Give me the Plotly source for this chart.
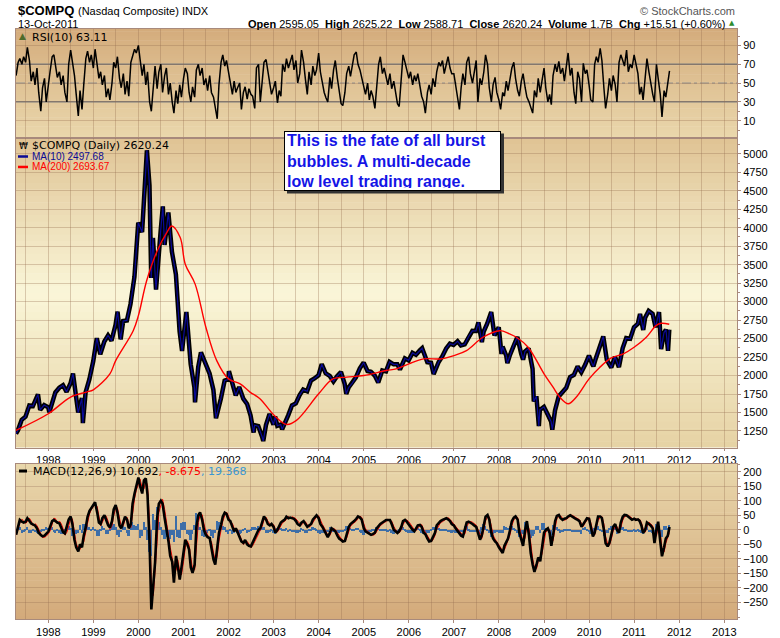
import pandas as pd
import plotly.graph_objects as go

W, H = 780, 638

# ---- values ----
price_dates = [
    "1997-04-14", "1997-04-30", "1997-05-30", "1997-06-30", "1997-07-31", "1997-08-29", "1997-10-09", "1997-10-27", "1997-11-28", "1997-12-31",
    "1998-01-09", "1998-02-27", "1998-03-31", "1998-04-30", "1998-05-29", "1998-06-30", "1998-07-20", "1998-08-31", "1998-09-30", "1998-10-08", "1998-10-30", "1998-11-30", "1998-12-31",
    "1999-01-29", "1999-02-26", "1999-03-31", "1999-04-30", "1999-05-28", "1999-06-30", "1999-07-16", "1999-08-10", "1999-08-31", "1999-09-30", "1999-10-29", "1999-11-30", "1999-12-31",
    "2000-01-31", "2000-02-29", "2000-03-10", "2000-03-31", "2000-04-14", "2000-04-28", "2000-05-23", "2000-06-30", "2000-07-17", "2000-07-31", "2000-08-31", "2000-09-29", "2000-10-31", "2000-11-30", "2000-12-20", "2000-12-29",
    "2001-01-24", "2001-02-28", "2001-03-30", "2001-04-04", "2001-04-30", "2001-05-22", "2001-06-29", "2001-07-31", "2001-08-31", "2001-09-21", "2001-10-31", "2001-11-30", "2001-12-31",
    "2002-01-04", "2002-02-28", "2002-03-28", "2002-04-30", "2002-05-31", "2002-06-28", "2002-07-23", "2002-07-31", "2002-08-30", "2002-09-30", "2002-10-09", "2002-10-31", "2002-11-29", "2002-12-31",
    "2003-01-13", "2003-01-31", "2003-02-28", "2003-03-11", "2003-03-31", "2003-04-30", "2003-05-30", "2003-06-30", "2003-07-31", "2003-08-29", "2003-09-30", "2003-10-31", "2003-11-28", "2003-12-31",
    "2004-01-26", "2004-02-27", "2004-03-31", "2004-04-30", "2004-05-28", "2004-06-30", "2004-07-30", "2004-08-12", "2004-08-31", "2004-09-30", "2004-10-29", "2004-11-30", "2004-12-31",
    "2005-01-31", "2005-02-28", "2005-03-31", "2005-04-28", "2005-05-31", "2005-06-30", "2005-07-29", "2005-08-31", "2005-09-30", "2005-10-21", "2005-11-30", "2005-12-30",
    "2006-01-31", "2006-02-28", "2006-03-31", "2006-04-19", "2006-05-31", "2006-06-30", "2006-07-21", "2006-08-31", "2006-09-29", "2006-10-31", "2006-11-30", "2006-12-29",
    "2007-01-31", "2007-02-27", "2007-03-30", "2007-04-30", "2007-05-31", "2007-06-29", "2007-07-19", "2007-08-16", "2007-08-31", "2007-09-28", "2007-10-31", "2007-11-26", "2007-12-31",
    "2008-01-22", "2008-01-31", "2008-02-29", "2008-03-10", "2008-03-31", "2008-04-30", "2008-05-30", "2008-06-30", "2008-07-15", "2008-07-31", "2008-08-29", "2008-09-30", "2008-10-10", "2008-10-31", "2008-11-20", "2008-11-28", "2008-12-31",
    "2009-01-30", "2009-02-27", "2009-03-09", "2009-03-31", "2009-04-30", "2009-05-29", "2009-06-30", "2009-07-31", "2009-08-31", "2009-09-30", "2009-10-30", "2009-11-30", "2009-12-31",
    "2010-01-29", "2010-02-05", "2010-02-26", "2010-03-31", "2010-04-26", "2010-05-25", "2010-06-30", "2010-07-30", "2010-08-31", "2010-09-30", "2010-10-29", "2010-11-30", "2010-12-31",
    "2011-01-31", "2011-02-18", "2011-03-16", "2011-03-31", "2011-04-29", "2011-05-31", "2011-06-24", "2011-07-22", "2011-08-08", "2011-08-31", "2011-09-16", "2011-10-03", "2011-10-13",
]
price_close = [
    1214, 1260, 1400, 1442, 1594, 1587, 1745, 1535, 1601, 1570,
    1503, 1771, 1835, 1868, 1779, 1895, 2028, 1499, 1694, 1357, 1771, 1950, 2193,
    2505, 2288, 2461, 2542, 2470, 2686, 2864, 2490, 2739, 2746, 2966, 3336, 4069,
    3940, 4697, 5048, 4573, 3321, 3861, 3164, 3966, 4289, 3767, 4206, 3673, 3370, 2598, 2333, 2471,
    2859, 2152, 1840, 1638, 2116, 2313, 2161, 2027, 1805, 1423, 1690, 1931, 1950,
    2059, 1731, 1845, 1688, 1616, 1463, 1229, 1328, 1315, 1172, 1114, 1330, 1479, 1336,
    1447, 1321, 1337, 1271, 1341, 1464, 1596, 1623, 1735, 1810, 1787, 1932, 1960, 2003,
    2153, 2030, 1994, 1920, 1987, 2048, 1887, 1752, 1838, 1897, 1975, 2097, 2175,
    2062, 2052, 1999, 1904, 2068, 2057, 2185, 2152, 2152, 2082, 2233, 2205,
    2306, 2281, 2340, 2370, 2179, 2172, 2020, 2184, 2258, 2367, 2432, 2415,
    2464, 2408, 2422, 2525, 2605, 2603, 2720, 2452, 2596, 2702, 2859, 2541, 2652,
    2292, 2390, 2271, 2169, 2279, 2413, 2523, 2293, 2215, 2326, 2368, 2092, 1650, 1721, 1316, 1536, 1577,
    1476, 1378, 1268, 1529, 1717, 1774, 1835, 1979, 2009, 2122, 2045, 2145, 2269,
    2147, 2126, 2238, 2398, 2530, 2210, 2109, 2255, 2114, 2369, 2507, 2498, 2653,
    2700, 2834, 2617, 2781, 2874, 2835, 2653, 2859, 2358, 2579, 2622, 2335, 2620,
]

ma200_dates = [
    "1997-04-14", "1998-01-01", "1998-07-01", "1998-11-06", "1999-01-01", "1999-05-15", "1999-07-01", "1999-11-20",
    "2000-01-01", "2000-03-08", "2000-06-01", "2000-08-18", "2000-09-27", "2000-12-05", "2001-01-15", "2001-04-05",
    "2001-07-01", "2001-09-27", "2002-01-01", "2002-04-05", "2002-06-24", "2002-09-12", "2003-01-01", "2003-04-15",
    "2003-07-05", "2004-01-01", "2004-04-26", "2004-08-15", "2005-01-01", "2005-07-01", "2005-09-20", "2006-01-01",
    "2006-05-01", "2006-09-24", "2007-01-01", "2007-04-13", "2007-08-25", "2008-01-08", "2008-03-28", "2008-05-22",
    "2008-08-25", "2009-01-01", "2009-03-15", "2009-05-08", "2009-07-16", "2009-09-20", "2010-01-01", "2010-03-30",
    "2010-07-01", "2010-10-05", "2011-01-01", "2011-04-10", "2011-06-28", "2011-08-08", "2011-10-13",
]
ma200_vals = [
    1258, 1483, 1709, 1776, 1807, 2023, 2202, 2607,
    2810, 3282, 3686, 3935, 4024, 3867, 3507, 3237,
    2653, 2202, 1955, 1888, 1776, 1686, 1470, 1339,
    1393, 1753, 1955, 1978, 2000, 2068, 2090, 2158,
    2225, 2225, 2270, 2337, 2518, 2607, 2563, 2518,
    2383, 2023, 1843, 1709, 1618, 1709, 1955, 2113,
    2238, 2293, 2383, 2518, 2675, 2707, 2694,
]

# semi-monthly readings (1st / 15th), Apr 1997 - Oct 2011
rsi_vals = [
    58, 72, 76, 70, 78, 72, 88, 74, 52, 62, 48, 66, 40, 20, 45, 55, 30,
    45, 62, 78, 80, 68, 56, 62, 48, 58, 40, 30, 70, 85, 74, 58, 38, 15, 42, 22, 48, 76, 84, 72, 80,
    66, 86, 70, 55, 62, 48, 58, 35, 44, 32, 50, 72, 66, 78, 55, 45, 60, 38, 52, 36, 72, 78, 86, 82,
    90, 75, 58, 70, 48, 62, 30, 20, 52, 68, 44, 62, 70, 40, 58, 66, 38, 50, 30, 18, 42, 28, 48, 35,
    55, 66, 60, 40, 30, 46, 35, 64, 70, 58, 66, 48, 55, 42, 58, 40, 35, 22, 12, 48, 72, 80, 68, 74,
    60, 48, 38, 52, 40, 45, 50, 22, 40, 46, 33, 44, 38, 36, 23, 66, 70, 30, 50, 72, 75, 62, 48, 38,
    45, 52, 29, 42, 36, 70, 62, 76, 66, 72, 80, 64, 74, 50, 60, 85, 72, 55, 38, 62, 48, 68, 58, 64,
    82, 62, 48, 40, 34, 30, 56, 44, 64, 74, 55, 40, 28, 26, 40, 60, 68, 57, 72, 80, 83, 70, 64, 55,
    45, 38, 50, 32, 42, 36, 23, 48, 70, 78, 60, 66, 54, 48, 60, 44, 52, 38, 28, 25, 55, 80, 72, 64,
    55, 62, 48, 58, 52, 60, 45, 36, 30, 18, 40, 48, 38, 55, 46, 62, 72, 68, 74, 60, 70, 78, 66, 60,
    60, 48, 36, 22, 45, 60, 48, 72, 78, 60, 50, 62, 74, 30, 55, 48, 62, 80, 70, 45, 30, 48, 56, 40,
    32, 22, 40, 36, 52, 42, 58, 66, 72, 55, 42, 36, 52, 60, 45, 35, 30, 24, 18, 42, 35, 55, 40, 52,
    66, 45, 30, 38, 27, 58, 70, 62, 73, 60, 66, 52, 70, 82, 58, 66, 40, 28, 62, 55, 30, 71, 60, 64,
    48, 32, 30, 70, 78, 72, 87, 74, 45, 23, 38, 55, 42, 58, 48, 30, 72, 80, 74, 68, 85, 62, 70, 66,
    80, 70, 60, 38, 46, 32, 58, 76, 62, 50, 38, 30, 70, 55, 38, 14, 42, 35, 52, 63,
]
macd_vals = [
    -17, 15, 34, 28, 25, 28, 40, 30, 22, 18, 15, 5, -10, -18, -22, -20, -12,
    -6, 10, 30, 34, 28, 25, 22, 8, -8, -12, 10, 35, 46, 20, -35, -60, -74, -50, -60, -20, 10, 45, 65, 75,
    90, 95, 60, 25, 20, 40, 50, 35, 15, 8, 30, 70, 85, 60, 15, 5, 30, 45, 35, 5, 20, 90, 125, 150,
    180, 150, 125, 170, 177, 120, -50, -274, -171, -114, 40, 90, 100, 90, 40, 5, -40, -90, -110, -182, -90, -125, -171, -130,
    -80, -34, -50, -68, -130, -148, -120, 10, 50, 60, 34, 0, -17, -25, -28, -60, -103, -120, -60, -11, 17, 45, 59, 55,
    35, 30, 10, -5, 5, -10, -30, -40, -45, -35, -50, -55, -57, -45, -30, -20, 0, 5, 25, 46, 35, 20, 15, 20,
    10, -10, 0, 15, 25, 30, 35, 45, 40, 42, 40, 38, 30, 20, 15, 25, 30, 20, 10, 15, 20, 35, 45, 50,
    40, 20, 10, 0, -15, -25, -10, 5, 0, -5, -20, -30, -35, -40, -38, -15, 10, 20, 25, 30, 38, 46, 42, 35,
    5, -5, -10, -15, -17, -15, -10, 5, 15, 20, 25, 30, 34, 34, 34, 20, 0, -5, -11, -5, 10, 30, 34, 28,
    20, 10, 0, -5, 5, 15, 17, 10, -10, -15, -30, -40, -38, -25, -10, 15, 25, 30, 34, 38, 40, 36, 30, 20,
    15, 5, -5, -15, -20, -23, 0, 25, 28, 25, 20, 15, 10, -10, -34, -20, 20, 45, 51, 35, -10, -30, -40, -46,
    -60, -70, -80, -55, -40, -30, 0, 30, 42, 46, 35, -10, -34, -55, 0, 30, -20, -80, -120, -145, -120, -95, -108, -60,
    -10, 0, 5, -10, -55, -20, 30, 48, 51, 40, 34, 38, 40, 46, 50, 46, 40, 38, 34, 30, 10, 20, 35, 40,
    38, 10, -23, -10, 20, 46, 46, 40, 0, -46, -57, -45, -15, 10, 20, 0, -10, 25, 45, 51, 50, 45, 40, 35,
    38, 34, 36, 30, 15, -11, 0, 25, 20, 15, 5, -46, 0, 28, -40, -91, -60, -30, -20, 10,
]
hist_vals = [
    0, 14, 10, -8, -6, 6, 12, -10, -8, 5, -6, -10, -12, -6, 4, 6, 10,
    8, 14, 12, -6, -10, 5, -8, -14, -12, 6, 18, 16, 8, -18, -25, -12, -10, 18, -8, 22, 16, 18, 10, 6,
    12, 6, -20, -18, 6, 14, 8, -12, -14, 6, 16, 22, 10, -16, -24, -6, 16, 10, -8, -18, 12, 30, 18, 14,
    20, -25, -18, 30, 10, -35, -75, -90, 55, 35, 80, 30, 10, -15, -30, -22, -28, -30, -15, -40, 50, -22, -28, 25,
    30, 28, -12, -15, -35, -12, 18, 60, 25, 10, -18, -22, -12, -8, 6, -20, -25, -10, 32, 28, 18, 16, 10, -6,
    -12, 6, -12, -10, 8, -10, -12, -8, 5, 8, -10, -6, 4, 10, 12, 8, 14, 6, 12, 12, -8, -10, -5, 6,
    -8, -12, 8, 10, 8, 5, 6, 8, -6, 4, -5, -4, -8, -10, -6, 8, 6, -8, -8, 6, 5, 10, 8, 5,
    -8, -12, -8, -8, -10, -6, 10, 10, -5, -6, -10, -8, -5, -6, 4, 14, 14, 8, 5, 6, 8, 7, -5, -8,
    -16, -8, -5, -6, -4, 4, 6, 10, 8, 5, 6, 4, 6, -3, 3, -10, -12, -6, -6, 6, 10, 12, 5, -6,
    -8, -8, -8, -5, 8, 8, 4, -8, -12, -6, -10, -8, 4, 10, 10, 14, 8, 5, 6, 5, 4, -6, -6, -8,
    -5, -8, -8, -8, -5, -4, 14, 14, 5, -4, -6, -5, -6, -12, -14, 10, 20, 14, 6, -10, -22, -12, -8, -5,
    -10, -8, -8, 14, 10, 8, 16, 16, 8, 5, -8, -22, -14, -12, 28, 16, -24, -28, -20, -14, 14, 14, -8, 24,
    24, 8, 6, -10, -22, 18, 24, 10, 5, -8, -6, 5, 4, 6, 5, -5, -6, -4, -5, -5, -12, 8, 10, 6,
    -4, -14, -16, 8, 16, 14, 4, -6, -20, -22, -8, 8, 16, 14, 8, -12, -8, 18, 12, 6, 3, -5, -5, -5,
    4, -6, 4, -6, -10, -14, 8, 14, -6, -6, -8, -24, 22, 15, -30, -24, 16, 16, 8, 19,
]

years = list(range(1998, 2014))
price_ticks = list(range(1250, 5001, 250))
rsi_ticks = [10, 30, 50, 70, 90]
macd_ticks = list(range(-250, 201, 50))

assert len(price_dates) == len(price_close)
assert len(ma200_dates) == len(ma200_vals)
assert len(rsi_vals) == len(macd_vals) == len(hist_vals)

semi = pd.date_range("1997-04-15", periods=len(rsi_vals), freq="SMS")
signal_vals = [m - h for m, h in zip(macd_vals, hist_vals)]

# ---- layout geometry (pixels in the 780x638 picture) ----
X0, X1 = 16, 737
RSI_T, RSI_B = 29, 138
MAIN_T, MAIN_B = 138, 449
MACD_T, MACD_B = 465, 621

GRID = "rgba(150,110,80,0.33)"
AXC = "#a88a7c"
TICKFONT = dict(family="Liberation Sans, Arial", size=11, color="black")


def px(x):
    return x / W


def py(y):
    return 1 - y / H


def gradient(top, bot, stops, n=48):
    out = []
    h = (bot - top) / n
    for i in range(n):
        f = (i + 0.5) / n
        for (f0, c0), (f1, c1) in zip(stops, stops[1:]):
            if f0 <= f <= f1:
                t = (f - f0) / (f1 - f0)
                c = [round(a + (b - a) * t) for a, b in zip(c0, c1)]
                break
        y0 = top + i * h
        out.append(dict(type="rect", xref="paper", yref="paper", x0=px(X0), x1=px(X1),
                        y0=py(min(y0 + h + 0.6, bot)), y1=py(y0),
                        fillcolor=f"rgb({c[0]},{c[1]},{c[2]})", line=dict(width=0), layer="below"))
    return out


fig = go.Figure()

# RSI panel
fig.add_trace(go.Scatter(x=semi, y=rsi_vals, mode="lines", line=dict(color="black", width=1.5),
                         xaxis="x", yaxis="y", hoverinfo="skip"))

# price panel
fig.add_trace(go.Scatter(x=price_dates, y=price_close, mode="lines", line=dict(color="black", width=4.5),
                         xaxis="x2", yaxis="y2", name="$COMPQ"))
fig.add_trace(go.Scatter(x=price_dates, y=price_close, mode="lines", line=dict(color="#0a0a96", width=1.2),
                         xaxis="x2", yaxis="y2", name="MA(10)"))
fig.add_trace(go.Scatter(x=ma200_dates, y=ma200_vals, mode="lines", line=dict(color="#ff0000", width=1.4, shape="spline"),
                         xaxis="x2", yaxis="y2", name="MA(200)"))

# MACD panel
fig.add_trace(go.Bar(x=semi, y=hist_vals, marker=dict(color="#3d6ea8", line=dict(width=0)),
                     width=14 * 86400000, xaxis="x3", yaxis="y3"))
fig.add_trace(go.Scatter(x=semi, y=signal_vals, mode="lines", line=dict(color="#ff0000", width=1.0),
                         xaxis="x3", yaxis="y3"))
fig.add_trace(go.Scatter(x=semi, y=macd_vals, mode="lines", line=dict(color="black", width=2.6),
                         xaxis="x3", yaxis="y3"))

year_vals = [f"{y}-01-01" for y in years]
half_vals = [f"{y}-07-01" for y in range(1997, 2013)]
xbase = dict(type="date", range=["1997-04-14", "2013-04-14"], tickvals=year_vals, ticktext=[str(y) for y in years],
             showgrid=True, gridcolor=GRID, gridwidth=1, showline=True, linecolor=AXC, linewidth=1, mirror=True,
             ticks="outside", ticklen=3, tickcolor=AXC, tickfont=TICKFONT, zeroline=False,
             minor=dict(tickvals=half_vals, showgrid=True, gridcolor=GRID, ticks=""))
ybase = dict(side="right", showgrid=True, gridcolor=GRID, gridwidth=1, showline=True, linecolor=AXC, linewidth=1,
             mirror=True, ticks="outside", ticklen=3, tickcolor=AXC, tickfont=TICKFONT, zeroline=False)

shapes = []
shapes += gradient(RSI_T, RSI_B, [(0, (212, 172, 124)), (1, (234, 215, 172))])
shapes += gradient(MAIN_T, MAIN_B, [(0, (223, 195, 148)), (0.5, (250, 246, 216)), (1, (230, 210, 164))])
shapes += gradient(MACD_T, MACD_B, [(0, (233, 215, 172)), (1, (211, 170, 122))])

# RSI reference lines
for lvl in (70, 30):
    shapes.append(dict(type="line", xref="x domain", yref="y", x0=0, x1=1, y0=lvl, y1=lvl,
                       line=dict(color="#7d7d7d", width=1.5), layer="below"))
shapes.append(dict(type="line", xref="x domain", yref="y", x0=0, x1=1, y0=50, y1=50,
                   line=dict(color="#8c8c8c", width=1, dash="dashdot"), layer="below"))

# legend swatches
shapes.append(dict(type="line", xref="paper", yref="paper", x0=px(18), x1=px(28), y0=py(157), y1=py(157),
                   line=dict(color="#0a0a96", width=2.5)))
shapes.append(dict(type="line", xref="paper", yref="paper", x0=px(18), x1=px(28), y0=py(167.5), y1=py(167.5),
                   line=dict(color="#ff0000", width=2.5)))
shapes.append(dict(type="line", xref="paper", yref="paper", x0=px(19), x1=px(27), y0=py(472.5), y1=py(472.5),
                   line=dict(color="black", width=3)))

# shadow of the comment box
shapes.append(dict(type="rect", xref="paper", yref="paper", x0=px(287), x1=px(504), y0=py(194), y1=py(134),
                   fillcolor="#333333", line=dict(width=0), layer="above"))

DV = "DejaVu Sans"
LS = "Liberation Sans, Arial"
annotations = [
    dict(x=px(16), y=py(11), text="<b>$COMPQ</b>", font=dict(family=LS, size=13, color="black"), xanchor="left"),
    dict(x=px(75.5), y=py(11), text="(Nasdaq Composite) INDX", font=dict(family=LS, size=11, color="black"), xanchor="left"),
    dict(x=px(16), y=py(24), text="13-Oct-2011", font=dict(family=LS, size=11, color="black"), xanchor="left"),
    dict(x=px(727), y=py(24),
         text="<b>Open</b> 2595.05  <b>High</b> 2625.22  <b>Low</b> 2588.71  <b>Close</b> 2620.24  "
              "<b>Volume</b> 1.7B  <b>Chg</b> +15.51 (+0.60%)",
         font=dict(family=LS, size=11, color="black"), xanchor="right"),
    dict(x=px(731.5), y=py(23.5), text="▲", font=dict(family=DV, size=7, color="#2e8b2e"), xanchor="center"),
    dict(x=px(737), y=py(11), text="© StockCharts.com", font=dict(family=LS, size=11, color="#555555"), xanchor="right"),
    dict(x=px(22.5), y=py(36.5), text="▲", font=dict(family=DV, size=9, color="#4f6b2a"), xanchor="center"),
    dict(x=px(30), y=py(37.5), text="RSI(10) 63.11", font=dict(family=DV, size=11, color="black"), xanchor="left"),
    dict(x=px(23), y=py(146), text="₩", font=dict(family=DV, size=9, color="black"), xanchor="center"),
    dict(x=px(29.5), y=py(146), text="$COMPQ (Daily) 2620.24", font=dict(family=DV, size=11, color="black"), xanchor="left"),
    dict(x=px(29.5), y=py(157), text="MA(10) 2497.68", font=dict(family=LS, size=10, color="#0a0a96"), xanchor="left"),
    dict(x=px(29.5), y=py(167.5), text="MA(200) 2693.67", font=dict(family=LS, size=10, color="#ff0000"), xanchor="left"),
    dict(x=px(31), y=py(472.5),
         text="MACD(12,26,9) 10.692<span style='color:#ff0000'>, -8.675</span><span style='color:#3a96d2'>, 19.368</span>",
         font=dict(family=DV, size=11, color="black"), xanchor="left"),
    dict(x=px(283.5), y=py(131),
         text="<b>This is the fate of all burst<br>bubbles. A multi-decade<br>low level trading range.</b>",
         font=dict(family=LS, size=16, color="#1414e6"), xanchor="left", yanchor="top", align="left",
         bgcolor="white", bordercolor="black", borderwidth=1, borderpad=2, width=211, height=54, valign="middle"),
]
for a in annotations:
    a.setdefault("xref", "paper")
    a.setdefault("yref", "paper")
    a.setdefault("yanchor", "middle")
    a["showarrow"] = False

fig.update_layout(
    width=W, height=H, margin=dict(l=0, r=0, t=0, b=0),
    paper_bgcolor="white", plot_bgcolor="rgba(0,0,0,0)", showlegend=False, bargap=0,
    xaxis=dict(xbase, domain=[px(X0), px(X1)], anchor="y", showticklabels=False, ticks=""),
    yaxis=dict(ybase, domain=[py(RSI_B), py(RSI_T)], anchor="x", range=[-8, 107.6], tickvals=rsi_ticks,
               minor=dict(dtick=10, tick0=0, ticks="outside", ticklen=2, tickcolor=AXC)),
    xaxis2=dict(xbase, domain=[px(X0), px(X1)], anchor="y2", matches="x", ticklen=2),
    yaxis2=dict(ybase, domain=[py(MAIN_B), py(MAIN_T)], anchor="x2", range=[1025, 5220], tickvals=price_ticks,
                minor=dict(tick0=1250, dtick=125, ticks="outside", ticklen=2, tickcolor=AXC)),
    xaxis3=dict(xbase, domain=[px(X0), px(X1)], anchor="y3", matches="x"),
    yaxis3=dict(ybase, domain=[py(MACD_B), py(MACD_T)], anchor="x3", range=[-307, 228], tickvals=macd_ticks,
                minor=dict(dtick=25, tick0=0, ticks="outside", ticklen=2, tickcolor=AXC)),
    shapes=shapes,
    annotations=annotations,
)

# the page's default body margin would push the figure 8px right and down
fig.write_html("out.html", config={"displayModeBar": False},
               post_script="document.body.style.margin='0';")
